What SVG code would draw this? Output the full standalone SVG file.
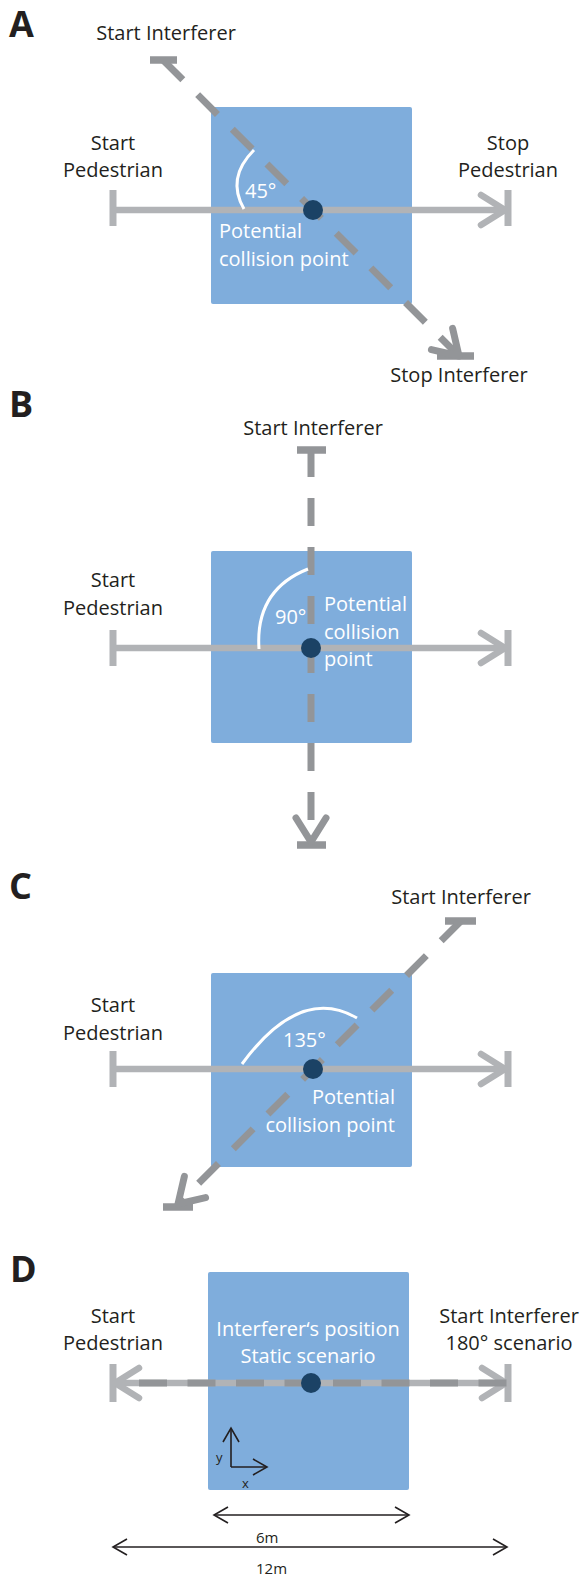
<svg xmlns="http://www.w3.org/2000/svg" width="583" height="1578" viewBox="0 0 583 1578">
<style>
.t{font-family:"Open Sans","Liberation Sans",sans-serif;font-size:20px;fill:#231F20}
.w{fill:#FFFFFF}
.c{text-anchor:middle}
.e{text-anchor:end}
.pl{font-family:"Open Sans","Liberation Sans",sans-serif;font-weight:700;font-size:36px;fill:#231F20}
.area{fill:#7FADDC}
.dot{fill:#1B4265}
.ped{stroke:#B1B3B6;stroke-width:6.5;fill:none}
.int{stroke:#939598;stroke-width:7;stroke-dasharray:28 21;fill:none}
.intd{stroke:#939598;stroke-width:7;stroke-dasharray:28 20.5;fill:none}
.bp{stroke:#B1B3B6;stroke-width:7}
.bi{stroke:#939598;stroke-width:7.5}
.arc{stroke:#FFFFFF;stroke-width:3;fill:none}
.dim{stroke:#231F20;stroke-width:1.6;fill:none}
.small{font-family:"Open Sans","Liberation Sans",sans-serif;font-size:15px;fill:#231F20}
.ax{font-family:"Open Sans","Liberation Sans",sans-serif;font-size:13px;fill:#231F20}
</style>
<defs>
<marker id="mp" markerUnits="userSpaceOnUse" orient="auto-start-reverse" refX="0" refY="0" markerWidth="40" markerHeight="40" viewBox="-30 -20 40 40" overflow="visible">
<path d="M -24 -15 L 0 0 L -24 15" fill="none" stroke="#B1B3B6" stroke-width="6.5" stroke-linecap="round" stroke-linejoin="round"/>
</marker>
<marker id="mi" markerUnits="userSpaceOnUse" orient="auto" refX="0" refY="0" markerWidth="40" markerHeight="40" viewBox="-30 -20 40 40" overflow="visible">
<path d="M -24 -15 L 0 0 L -24 15" fill="none" stroke="#939598" stroke-width="7" stroke-linecap="round" stroke-linejoin="round"/>
</marker>
<marker id="md" markerUnits="userSpaceOnUse" orient="auto-start-reverse" refX="0" refY="0" markerWidth="20" markerHeight="20" viewBox="-16 -10 20 20" overflow="visible">
<path d="M -14 -8 L 0 0 L -14 8" fill="none" stroke="#231F20" stroke-width="1.6"/>
</marker>
<marker id="ma" markerUnits="userSpaceOnUse" orient="auto" refX="0" refY="0" markerWidth="20" markerHeight="20" viewBox="-16 -10 20 20" overflow="visible">
<path d="M -14 -8 L 0 0 L -14 8" fill="none" stroke="#231F20" stroke-width="1.6"/>
</marker>
</defs>
<rect width="583" height="1578" fill="#FFFFFF"/>

<!-- Panel A -->
<g id="panel-A">
<text class="pl" x="9" y="37">A</text>
<g id="A-area"><rect class="area" x="211" y="107" width="201" height="197" rx="2"/></g>
<g id="A-connectors">
<line class="bp" x1="113" y1="190" x2="113" y2="226"/>
<line class="bp" x1="508" y1="190" x2="508" y2="226"/>
<line class="ped" x1="113" y1="210" x2="505" y2="210" marker-end="url(#mp)"/>
<line class="bi" x1="150" y1="60" x2="177" y2="60"/>
<line class="bi" x1="437" y1="356" x2="474" y2="356"/>
<line class="int" x1="163" y1="60" x2="459" y2="356" marker-end="url(#mi)"/>
</g>
<path class="arc" d="M 244 209 Q 226 178 254 150"/>
<g id="A-collision-point"><circle class="dot" cx="313" cy="210" r="10"/></g>
<g id="A-labels">
<text class="t c" x="166" y="40">Start Interferer</text>
<text class="t c" x="113" y="150">Start</text>
<text class="t c" x="113" y="177">Pedestrian</text>
<text class="t c" x="508" y="150">Stop</text>
<text class="t c" x="508" y="177">Pedestrian</text>
<text class="t w" x="245" y="198">45°</text>
<text class="t w" x="219" y="238">Potential</text>
<text class="t w" x="219" y="266">collision point</text>
<text class="t c" x="459" y="382">Stop Interferer</text>
</g>
</g>

<!-- Panel B -->
<g id="panel-B">
<text class="pl" x="9" y="417">B</text>
<g id="B-area"><rect class="area" x="211" y="551" width="201" height="192" rx="2"/></g>
<g id="B-connectors">
<line class="bp" x1="113" y1="630" x2="113" y2="666"/>
<line class="bp" x1="508" y1="630" x2="508" y2="666"/>
<line class="ped" x1="113" y1="648" x2="505" y2="648" marker-end="url(#mp)"/>
<line class="bi" x1="297" y1="450" x2="326" y2="450"/>
<line class="bi" x1="297" y1="845" x2="326" y2="845"/>
<line class="int" x1="311" y1="449" x2="311" y2="842" marker-end="url(#mi)"/>
</g>
<path class="arc" d="M 259 649 Q 255 590 308 569"/>
<g id="B-collision-point"><circle class="dot" cx="311" cy="648" r="10"/></g>
<g id="B-labels">
<text class="t c" x="313" y="435">Start Interferer</text>
<text class="t c" x="113" y="587">Start</text>
<text class="t c" x="113" y="615">Pedestrian</text>
<text class="t w" x="275" y="624">90°</text>
<text class="t w" x="324" y="611">Potential</text>
<text class="t w" x="324" y="639">collision</text>
<text class="t w" x="324" y="666">point</text>
</g>
</g>

<!-- Panel C -->
<g id="panel-C">
<text class="pl" x="9" y="899">C</text>
<g id="C-area"><rect class="area" x="211" y="973" width="201" height="194" rx="2"/></g>
<g id="C-connectors">
<line class="bp" x1="113" y1="1051" x2="113" y2="1087"/>
<line class="bp" x1="508" y1="1051" x2="508" y2="1087"/>
<line class="ped" x1="113" y1="1069" x2="505" y2="1069" marker-end="url(#mp)"/>
<line class="bi" x1="445" y1="921" x2="476" y2="921"/>
<line class="bi" x1="163" y1="1207" x2="193" y2="1207"/>
<line class="int" x1="461" y1="921" x2="178" y2="1204" marker-end="url(#mi)"/>
</g>
<path class="arc" d="M 242 1064 Q 300 985 357 1018"/>
<g id="C-collision-point"><circle class="dot" cx="313" cy="1069" r="10"/></g>
<g id="C-labels">
<text class="t c" x="461" y="904">Start Interferer</text>
<text class="t c" x="113" y="1012">Start</text>
<text class="t c" x="113" y="1040">Pedestrian</text>
<text class="t w" x="283" y="1047">135°</text>
<text class="t w e" x="395" y="1104">Potential</text>
<text class="t w e" x="395" y="1132">collision point</text>
</g>
</g>

<!-- Panel D -->
<g id="panel-D">
<text class="pl" x="10" y="1282">D</text>
<g id="D-area"><rect class="area" x="208" y="1272" width="201" height="218" rx="2"/></g>
<g id="D-connectors">
<line class="bp" x1="113" y1="1364" x2="113" y2="1402"/>
<line class="bp" x1="508" y1="1364" x2="508" y2="1402"/>
<line class="ped" x1="115" y1="1383" x2="506" y2="1383" marker-start="url(#mp)" marker-end="url(#mp)"/>
<line class="intd" x1="139" y1="1383" x2="507" y2="1383"/>
<line class="dim" x1="231" y1="1467" x2="231" y2="1428" marker-end="url(#ma)"/>
<line class="dim" x1="231" y1="1467" x2="267" y2="1467" marker-end="url(#ma)"/>
<line class="dim" x1="214" y1="1515" x2="409" y2="1515" marker-start="url(#md)" marker-end="url(#md)"/>
<line class="dim" x1="113" y1="1547" x2="507" y2="1547" marker-start="url(#md)" marker-end="url(#md)"/>
</g>
<g id="D-collision-point"><circle class="dot" cx="311" cy="1383" r="10"/></g>
<g id="D-labels">
<text class="t c" x="113" y="1323">Start</text>
<text class="t c" x="113" y="1350">Pedestrian</text>
<text class="t c" x="509" y="1323">Start Interferer</text>
<text class="t c" x="509" y="1350">180° scenario</text>
<text class="t w c" x="308" y="1336">Interferer‘s position</text>
<text class="t w c" x="308" y="1363">Static scenario</text>
<text class="ax" x="216" y="1462">y</text>
<text class="ax" x="242" y="1488">x</text>
<text class="small" x="256" y="1543">6m</text>
<text class="small" x="256" y="1574">12m</text>
</g>
</g>
</svg>
